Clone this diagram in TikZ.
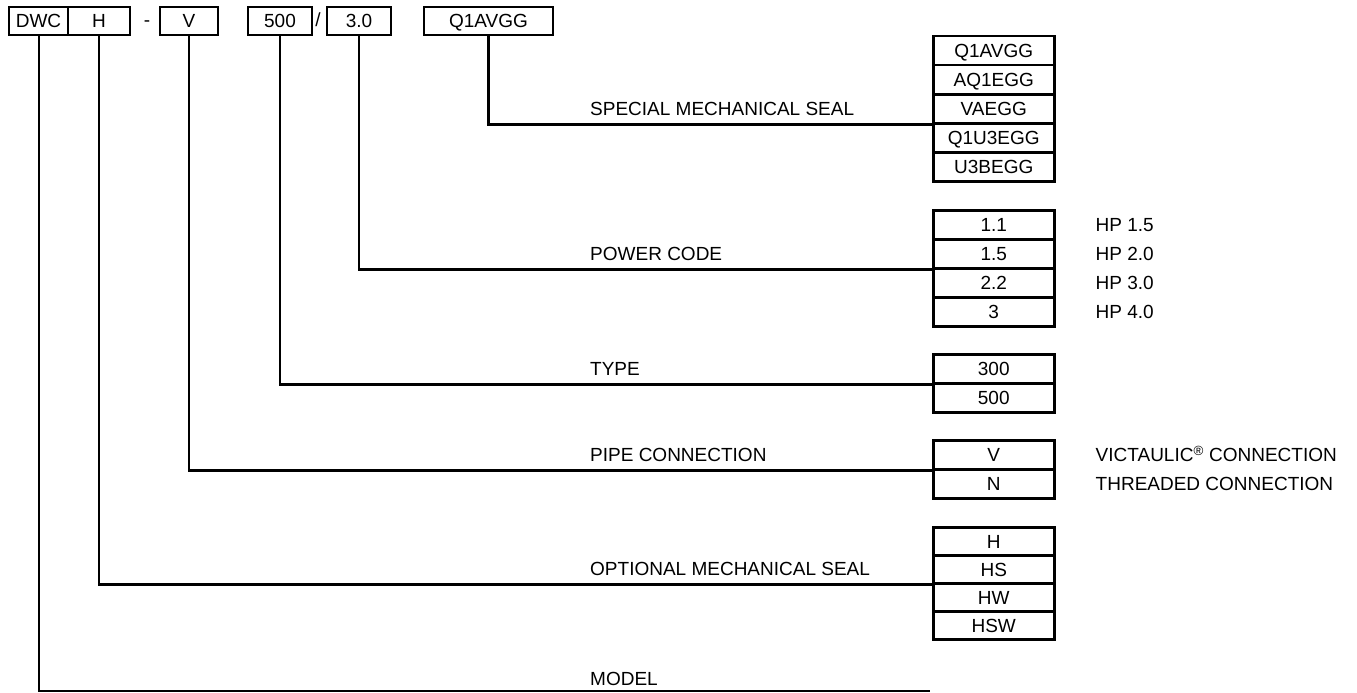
\documentclass[tikz,border=0pt]{standalone}
\usepackage{fontspec}
\setmainfont{Liberation Sans}
\usepackage{tikz}
\usetikzlibrary{positioning}

\begin{document}
\begin{tikzpicture}[x=1pt,y=-1pt,font=\fontsize{19}{22}\selectfont,
		every node/.append style={text height=13.6pt,text depth=0pt},
		hdr/.style={draw,line width=2pt,minimum height=28pt,inner sep=0pt,anchor=north west},
		cell/.style={draw,line width=2.5pt,minimum width=121pt,minimum height=29pt,inner sep=0pt,anchor=north west},
		lbl/.style={anchor=west,inner sep=0pt},
		con/.style={line width=2.5pt}]
		\useasboundingbox (0,0) rectangle (1357,693);
		\node[hdr,minimum width=59pt] (dwc) at (8,6) {DWC};
		\node[hdr,minimum width=62pt] (h) at (67,6) {H};
		\node[inner sep=0pt] (dash) at (147,20) {-};
		\node[hdr,minimum width=58pt] (v) at (159,6) {V};
		\node[hdr,minimum width=64pt] (type) at (247,6) {500};
		\node[inner sep=0pt] (slash) at (318,20) {/};
		\node[hdr,minimum width=64pt] (pow) at (326,6) {3.0};
		\node[hdr,minimum width=129pt] (seal) at (423,6) {Q1AVGG};
	\foreach \t [count=\i] in {Q1AVGG,AQ1EGG,VAEGG,Q1U3EGG,U3BEGG}
		\node[cell] (seal\i) at (932,{35+29*(\i-1)}) {\t};
	\foreach \t/\hp [count=\i] in {1.1/1.5,1.5/2.0,2.2/3.0,3/4.0}{
		\node[cell] (pow\i) at (932,{209+29*(\i-1)}) {\t};
		\node[lbl,right=40pt of pow\i] (hp\i) {HP \hp};}
	\foreach \t [count=\i] in {300,500}
		\node[cell] (type\i) at (932,{353+29*(\i-1)}) {\t};
	\node[cell] (v1) at (932,439) {V};
	\node[cell] (v2) at (932,468) {N};
	\node[lbl,right=40pt of v1] (vtxt1) {VICTAULIC\textsuperscript{\textregistered} CONNECTION};
	\node[lbl,right=40pt of v2] (vtxt2) {THREADED CONNECTION};
	\foreach \t [count=\i] in {H,HS,HW,HSW}
		\node[cell,minimum height=28pt] (h\i) at (932,{526+28*(\i-1)}) {\t};
	\coordinate (modelend) at (930,691);
	\draw[con] (seal.south) |- (seal3.south west);
	\draw[con] (pow.south) |- (pow2.south west);
	\draw[con] (type.south) |- (type1.south west);
	\draw[con] (v.south) |- (v1.south west);
	\draw[con] (h.south) |- (h2.south west);
	\draw[line width=2pt] (dwc.south) |- (modelend);
	\node[lbl] (sealtxt) at (590,109) {SPECIAL MECHANICAL SEAL};
	\node[lbl] (powtxt) at (590,254) {POWER CODE};
	\node[lbl] (typetxt) at (590,369) {TYPE};
	\node[lbl] (vtxt) at (590,455) {PIPE CONNECTION};
	\node[lbl] (htxt) at (590,569) {OPTIONAL MECHANICAL SEAL};
	\node[lbl] (modeltxt) at (590,679) {MODEL};
\end{tikzpicture}
\end{document}
